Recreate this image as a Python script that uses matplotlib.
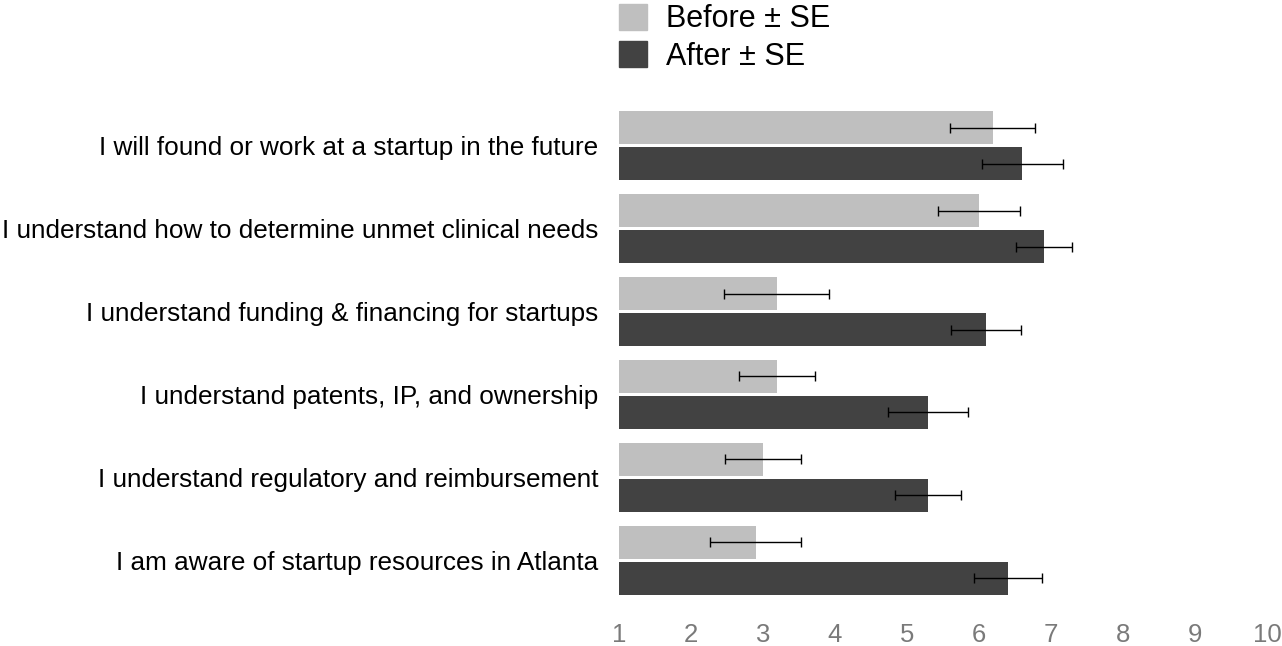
import numpy as np
import matplotlib
matplotlib.use("Agg")
import matplotlib.pyplot as plt
from matplotlib.patches import Patch

# --- datos ---
categories = [
    "I will found or work at a startup in the future",
    "I understand how to determine unmet clinical needs",
    "I understand funding & financing for startups",
    "I understand patents, IP, and ownership",
    "I understand regulatory and reimbursement",
    "I am aware of startup resources in Atlanta",
]
before = [6.19, 6.0, 3.19, 3.19, 3.0, 2.9]
before_se = [0.59, 0.57, 0.73, 0.53, 0.53, 0.63]
after = [6.6, 6.9, 6.1, 5.29, 5.29, 6.4]
after_se = [0.56, 0.39, 0.49, 0.56, 0.46, 0.47]
xticks = [1, 2, 3, 4, 5, 6, 7, 8, 9, 10]

BEFORE_COLOR = "#bfbfbf"
AFTER_COLOR = "#424242"

plt.rcParams["font.family"] = ["Liberation Sans", "DejaVu Sans"]

fig = plt.figure(figsize=(12.82, 6.46), dpi=100)
ax = fig.add_axes([619 / 1282, 1 - 595 / 646, (1267 - 619) / 1282, (595 - 111) / 646])

y = np.arange(len(categories))
h = 0.4
off = 0.217
base = 1

ax.barh(y - off, np.array(before) - base, left=base, height=h, color=BEFORE_COLOR,
        xerr=before_se, error_kw=dict(ecolor="black", elinewidth=1, capsize=3.5, capthick=1))
ax.barh(y + off, np.array(after) - base, left=base, height=h, color=AFTER_COLOR,
        xerr=after_se, error_kw=dict(ecolor="black", elinewidth=1, capsize=3.5, capthick=1))

ax.set_xlim(1, 10)
ax.set_ylim(len(categories) - 1 + off + h / 2, -off - h / 2)
ax.set_yticks(y)
ax.set_yticklabels(categories, fontsize=18.8, color="black")
ax.set_xticks(xticks)
ax.set_xticklabels([str(t) for t in xticks], fontsize=18.5, color="#7a7a7a")
ax.tick_params(axis="y", length=0, pad=15)
ax.tick_params(axis="x", length=0, pad=20)
for s in ax.spines.values():
    s.set_visible(False)

handles = [Patch(color=BEFORE_COLOR, label="Before ± SE"),
           Patch(color=AFTER_COLOR, label="After ± SE")]
fig.legend(handles=handles, loc="upper left", bbox_to_anchor=(619 / 1282, 1 - 4 / 646),
           frameon=False, fontsize=22, handlelength=0.92, handleheight=0.92,
           handletextpad=0.62, labelspacing=0.22, borderpad=0, borderaxespad=0)

fig.savefig("out.png", dpi=100)
